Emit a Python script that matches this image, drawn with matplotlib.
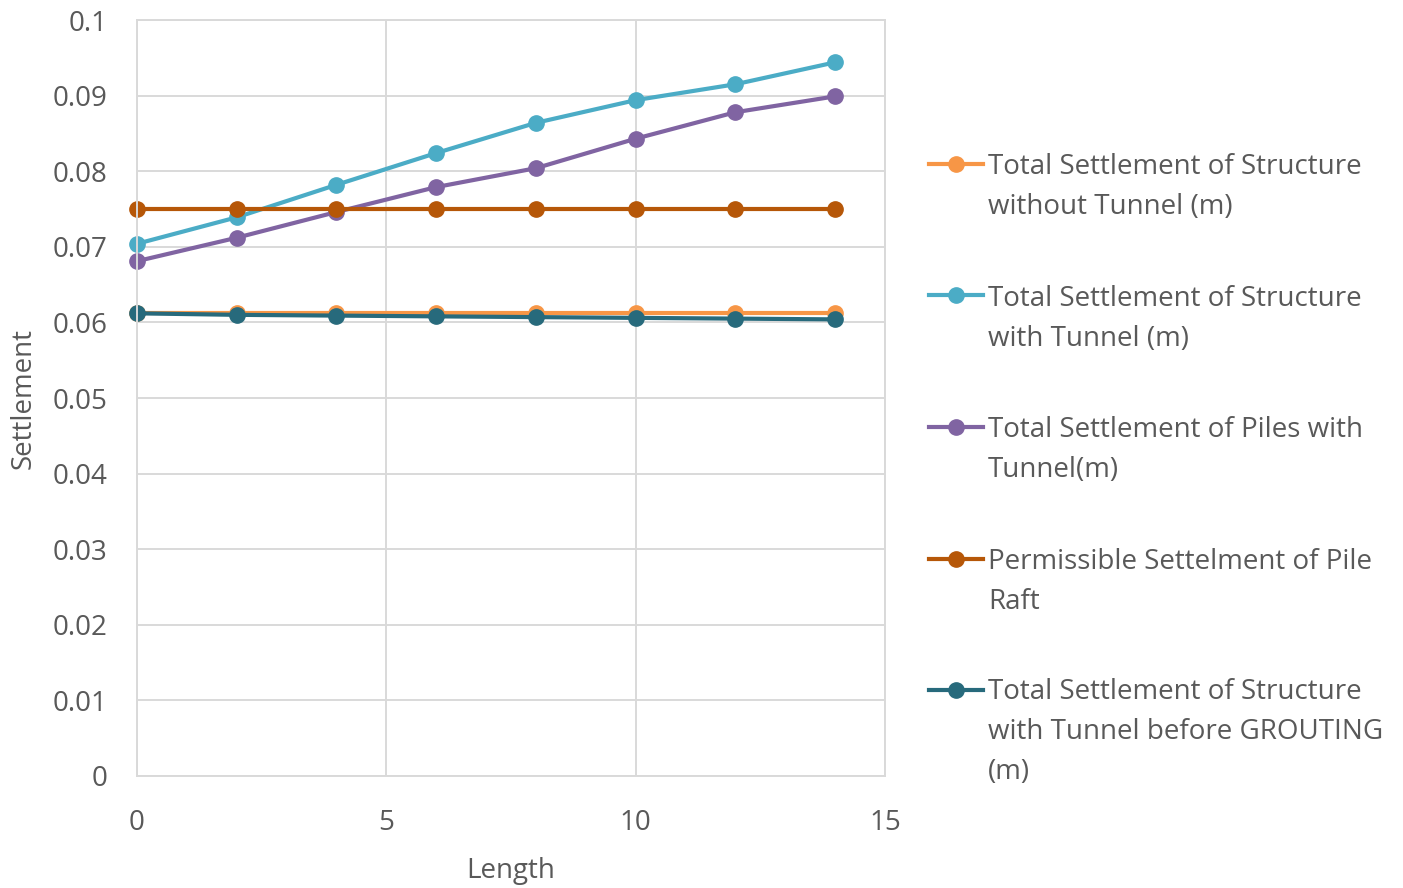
import numpy as np
import matplotlib.pyplot as plt
from matplotlib.lines import Line2D
from matplotlib.ticker import FuncFormatter

plt.rcParams['font.family'] = ['Open Sans', 'DejaVu Sans']

# data
length = [0, 2, 4, 6, 8, 10, 12, 14]
without_tunnel = [0.0613, 0.0613, 0.0613, 0.0613, 0.0613, 0.0613, 0.0613, 0.0613]
with_tunnel = [0.0704, 0.0739, 0.0782, 0.0824, 0.0864, 0.0894, 0.0915, 0.0944]
piles_tunnel = [0.0681, 0.0712, 0.0746, 0.0779, 0.0804, 0.0843, 0.0878, 0.0899]
permissible = [0.075, 0.075, 0.075, 0.075, 0.075, 0.075, 0.075, 0.075]
before_grouting = [0.0612, 0.0610, 0.0609, 0.0608, 0.0607, 0.0606, 0.0605, 0.0604]

labels = ['Total Settlement of Structure\nwithout Tunnel (m)',
          'Total Settlement of Structure\nwith Tunnel (m)',
          'Total Settlement of Piles with\nTunnel(m)',
          'Permissible Settelment of Pile\nRaft',
          'Total Settlement of Structure\nwith Tunnel before GROUTING\n(m)']
colors = ['#F79646', '#4BACC6', '#8064A2', '#B65708', '#276A7C']

txt = '#595959'
grid_c = '#D9D9D9'
W, H = 1403, 888

fig = plt.figure(figsize=(W / 100, H / 100), dpi=100)
ax = fig.add_axes([137 / W, 1 - 776 / H, 748 / W, 756 / H])

series = [without_tunnel, with_tunnel, piles_tunnel, permissible, before_grouting]
for ys, c in zip(series, colors):
    ax.plot(length, ys, '-o', color=c, lw=3, markersize=11, clip_on=False)

ax.set_xlim(0, 15)
ax.set_ylim(0, 0.1)
ax.set_xticks([0, 5, 10, 15])
ax.set_yticks(np.arange(0, 0.101, 0.01))
ax.yaxis.set_major_formatter(FuncFormatter(lambda v, p: '0' if v == 0 else ('%.2f' % v).rstrip('0')))
ax.tick_params(length=0, labelsize=20, labelcolor=txt)
ax.tick_params(axis='y', pad=21)
ax.tick_params(axis='x', pad=24)
ax.grid(True, color=grid_c, lw=1.4)
ax.set_axisbelow(True)
for s in ax.spines.values():
    s.set_color(grid_c)
    s.set_linewidth(1.4)

ax.set_xlabel('Length', fontsize=20, color=txt, labelpad=14)
ax.set_ylabel('Settlement', fontsize=20, color=txt)
ax.yaxis.set_label_coords(-0.133, 0.5)

# legend drawn at the right, handle aligned with the first text line
pitch = 39
for i, (c, lab) in enumerate(zip(colors, labels)):
    yb = 175 + i * 131.5
    yh = 1 - (yb - 11) / H
    fig.add_artist(Line2D([929 / W, 983 / W], [yh, yh], transform=fig.transFigure,
                          color=c, lw=3))
    fig.add_artist(Line2D([956 / W], [yh], transform=fig.transFigure,
                          color=c, marker='o', markersize=11))
    n = lab.count('\n')
    fig.text(988 / W, 1 - (yb + n * pitch) / H, lab, fontsize=20, color=txt,
             ha='left', va='baseline', linespacing=1.57)

fig.savefig('out.png', dpi=100)
